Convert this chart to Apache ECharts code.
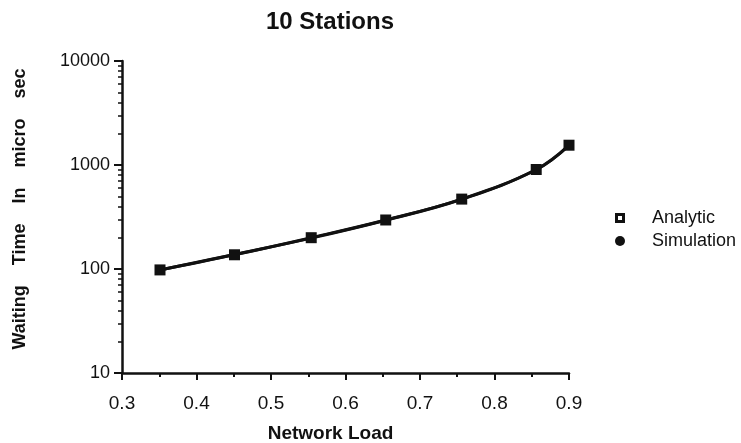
<!DOCTYPE html>
<html>
<head>
<meta charset="utf-8">
<script src="https://cdn.jsdelivr.net/npm/echarts@6/dist/echarts.min.js"></script>
<style>
  html, body { margin: 0; padding: 0; background: #fff; }
  #chart { width: 741px; height: 443px; }
</style>
</head>
<body>
<div id="chart"></div>
<script>
var loads = [0.351, 0.451, 0.554, 0.654, 0.756, 0.856, 0.9];
var analytic = [98, 137, 200, 296, 470, 905, 1550];
var simulation = [98, 138, 198, 294, 468, 900, 1540];
var xTicks = [0.3, 0.4, 0.5, 0.6, 0.7, 0.8, 0.9];
var yTicks = [10, 100, 1000, 10000];
var yMinor = [];
[10, 100, 1000].forEach(function (d) {
    for (var k = 2; k <= 9; k++) yMinor.push(d * k);
});

var font = 'Liberation Sans, Arial, sans-serif';

function pairs(xs, ys) {
    return xs.map(function (x, i) { return [x, ys[i]]; });
}

var myChart = echarts.init(document.getElementById('chart'));
var option = {
    animation: false,
    backgroundColor: '#fff',
    title: {
        text: '10 Stations',
        left: 325,
        textAlign: 'center',
        top: 5,
        textStyle: { fontFamily: font, fontSize: 24, fontWeight: 'bold', color: '#111' }
    },
    legend: {
        orient: 'vertical',
        left: 610,
        top: 204,
        itemGap: 5,
        itemWidth: 10,
        itemHeight: 10,
        textStyle: { fontFamily: font, fontSize: 18, color: '#111', padding: [0, 0, 0, 22] },
        data: [
            { name: 'Analytic', icon: 'path://M0,0H10V10H0Z M3,3V7H7V3Z' },
            { name: 'Simulation', icon: 'circle' }
        ]
    },
    grid: { left: 122, right: 172, top: 61, bottom: 70, outerBoundsMode: 'none', containLabel: false },
    xAxis: {
        type: 'value',
        min: 0.3,
        max: 0.9,
        interval: 0.1,
        name: 'Network Load',
        nameLocation: 'middle',
        nameGap: 51,
        nameTextStyle: {
            fontFamily: font, fontSize: 19, fontWeight: 'bold', color: '#111',
            padding: [0, 30, 0, 0]
        },
        axisLine: { lineStyle: { color: '#111', width: 2.5 } },
        axisTick: { length: 7, lineStyle: { color: '#111', width: 2 } },
        minorTick: { show: true, splitNumber: 2, length: 4, lineStyle: { color: '#111', width: 2 } },
        axisLabel: {
            fontFamily: font, fontSize: 19, color: '#111', margin: 21,
            formatter: function (v) { return v.toFixed(1); }
        },
        splitLine: { show: false }
    },
    yAxis: [{
        type: 'log',
        logBase: 10,
        min: 10,
        max: 10000,
        name: 'Waiting    Time    In    micro    sec',
        nameLocation: 'middle',
        nameRotate: 90,
        nameGap: 93,
        nameTextStyle: {
            fontFamily: font, fontSize: 18, fontWeight: 'bold', color: '#111',
            padding: [0, 0, 0, 16]
        },
        axisLine: { show: true, lineStyle: { color: '#111', width: 2.5 } },
        axisTick: { length: 8, lineStyle: { color: '#111', width: 2 } },
        axisLabel: {
            fontFamily: font, fontSize: 18, color: '#111', margin: 12,
            formatter: function (v) { return String(Math.round(v)); }
        },
        splitLine: { show: false }
    }, {
        type: 'log',
        logBase: 10,
        min: 10,
        max: 10000,
        position: 'left',
        axisLine: { show: false },
        axisTick: { show: true, length: 4, customValues: yMinor, lineStyle: { color: '#111', width: 1.5 } },
        axisLabel: { show: false },
        splitLine: { show: false }
    }],
    series: [{
        name: 'Simulation',
        type: 'line',
        smooth: 0.4,
        data: pairs(loads, simulation),
        symbol: 'circle',
        symbolSize: 9,
        lineStyle: { color: '#111', width: 3 },
        itemStyle: { color: '#111' },
        z: 2
    }, {
        name: 'Analytic',
        type: 'line',
        smooth: 0.4,
        data: pairs(loads, analytic),
        symbol: 'rect',
        symbolSize: 11,
        lineStyle: { color: '#111', width: 3 },
        itemStyle: { color: '#111' },
        z: 3
    }]
};
myChart.setOption(option);
window.addEventListener('resize', function () {
    myChart.resize();
});
</script>
</body>
</html>
